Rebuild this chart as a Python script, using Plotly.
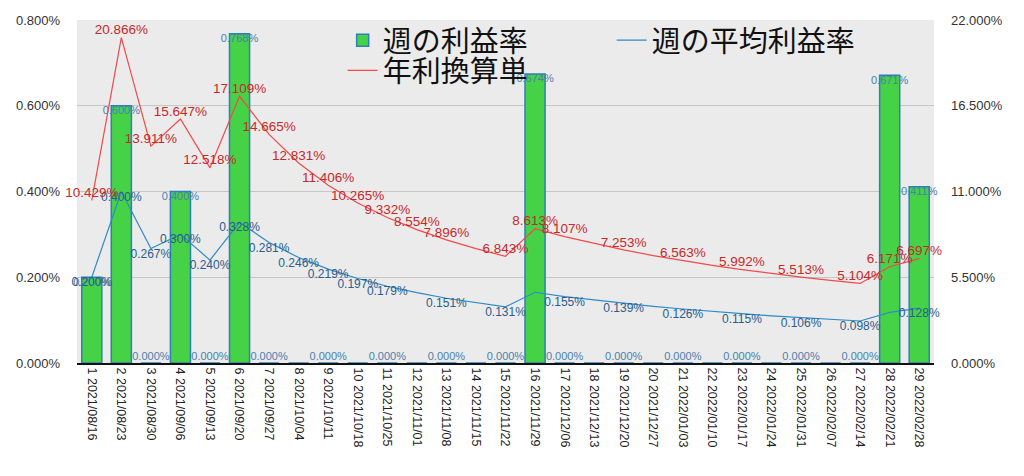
import plotly.graph_objects as go

# week labels
weeks = ["2021/08/16", "2021/08/23", "2021/08/30", "2021/09/06", "2021/09/13", "2021/09/20",
         "2021/09/27", "2021/10/04", "2021/10/11", "2021/10/18", "2021/10/25", "2021/11/01",
         "2021/11/08", "2021/11/15", "2021/11/22", "2021/11/29", "2021/12/06", "2021/12/13",
         "2021/12/20", "2021/12/27", "2022/01/03", "2022/01/10", "2022/01/17", "2022/01/24",
         "2022/01/31", "2022/02/07", "2022/02/14", "2022/02/21", "2022/02/28"]
categories = [f"{i + 1} {w}" for i, w in enumerate(weeks)]

# 週の利益率 (%)
weekly = [0.200, 0.600, 0.000, 0.400, 0.000, 0.768, 0.000, 0.000, 0.000, 0.000,
          0.000, 0.000, 0.000, 0.000, 0.000, 0.674, 0.000, 0.000, 0.000, 0.000,
          0.000, 0.000, 0.000, 0.000, 0.000, 0.000, 0.000, 0.671, 0.411]

# 週の平均利益率 (%)
average = [0.200, 0.400, 0.267, 0.300, 0.240, 0.328, 0.281, 0.246, 0.219, 0.197,
           0.179, 0.164, 0.151, 0.141, 0.131, 0.165, 0.155, 0.147, 0.139, 0.132,
           0.126, 0.120, 0.115, 0.110, 0.106, 0.102, 0.098, 0.118, 0.128]

# 年利換算単 (%)
annual = [10.429, 20.866, 13.911, 15.647, 12.518, 17.109, 14.665, 12.831, 11.406, 10.265,
          9.332, 8.554, 7.896, 7.332, 6.843, 8.613, 8.107, 7.656, 7.253, 6.891,
          6.563, 6.264, 5.992, 5.742, 5.513, 5.301, 5.104, 6.171, 6.697]

# which points carry a visible data label in the original
weekly_shown = [1, 2, 3, 4, 5, 6, 7, 9, 11, 13, 15, 16, 17, 19, 21, 23, 25, 27, 28, 29]
average_shown = [1, 2, 3, 4, 5, 6, 7, 8, 9, 10, 11, 13, 15, 17, 19, 21, 23, 25, 27, 29]
annual_shown = [1, 2, 3, 4, 5, 6, 7, 8, 9, 10, 11, 12, 13, 15, 16, 17, 19, 21, 23, 25, 27, 28, 29]

FONT = "Liberation Sans, Arial, Noto Sans CJK JP"
GREEN = "#46d246"
BAR_EDGE = "#2f7fb8"
BLUE = "#2f8ac8"
RED = "#f24a4a"

fig = go.Figure()

fig.add_trace(go.Bar(x=categories, y=weekly, name="週の利益率",
                     marker=dict(color=GREEN, line=dict(color=BAR_EDGE, width=1.5)),
                     yaxis="y", legend="legend"))

fig.add_trace(go.Scatter(x=categories, y=average, name="週の平均利益率", mode="lines",
                         line=dict(color=BLUE, width=1.2), yaxis="y", legend="legend"))

fig.add_trace(go.Scatter(x=categories, y=annual, name="年利換算単", mode="lines",
                         line=dict(color=RED, width=1.2), yaxis="y2", legend="legend2"))

# data labels
bar_text = [f"{v:.3f}%" if (i + 1) in weekly_shown else "" for i, v in enumerate(weekly)]
bar_pos = ["bottom center" if v > 0 else "top center" for v in weekly]
fig.add_trace(go.Scatter(x=categories, y=weekly, mode="text", text=bar_text,
                         textposition=bar_pos, showlegend=False, hoverinfo="skip",
                         cliponaxis=False,
                         textfont=dict(color="#4a7fae", size=11, family=FONT), yaxis="y"))

avg_text = [f"{v:.3f}%" if (i + 1) in average_shown else "" for i, v in enumerate(average)]
fig.add_trace(go.Scatter(x=categories, y=average, mode="text", text=avg_text,
                         textposition="bottom center", showlegend=False, hoverinfo="skip",
                         cliponaxis=False,
                         textfont=dict(color="#2a5d8c", size=12, family=FONT), yaxis="y"))

ann_text = [f"{v:.3f}%" if (i + 1) in annual_shown else "" for i, v in enumerate(annual)]
fig.add_trace(go.Scatter(x=categories, y=annual, mode="text", text=ann_text,
                         textposition="top center", showlegend=False, hoverinfo="skip",
                         cliponaxis=False,
                         textfont=dict(color="#c8282a", size=13.5, family=FONT), yaxis="y2"))

legend_font = dict(size=29, color="#111111", family="Noto Sans CJK JP")

# page body has an 8px margin, so the figure is a bit smaller than the window
fig.update_layout(
    width=1008, height=460,
    margin=dict(l=69, r=82, t=12, b=105, autoexpand=False),
    paper_bgcolor="white",
    plot_bgcolor="#ebebeb",
    font=dict(family=FONT, size=13, color="#333333"),
    bargap=0.32,
    showlegend=True,
    legend=dict(orientation="h", x=0.31, y=1.015, xanchor="left", yanchor="top",
                bgcolor="rgba(0,0,0,0)", entrywidth=224, font=legend_font),
    legend2=dict(orientation="h", x=0.31, y=0.927, xanchor="left", yanchor="top",
                 bgcolor="rgba(0,0,0,0)", font=legend_font),
    xaxis=dict(type="category", range=[-0.5, len(categories) - 0.5], tickangle=90,
               showgrid=False, ticks="", showline=True, linecolor="#111111", linewidth=2,
               automargin=False, tickfont=dict(size=12.5, color="#222222")),
    yaxis=dict(range=[0, 0.8], dtick=0.2, tickformat=".3f", ticksuffix="%",
               gridcolor="#c6c6c6", gridwidth=1, zeroline=False, showline=False,
               automargin=False, ticklabelstandoff=16,
               tickfont=dict(size=13, color="#333333")),
    yaxis2=dict(range=[0, 22], dtick=5.5, tickformat=".3f", ticksuffix="%",
                overlaying="y", side="right", showgrid=False, zeroline=False,
                automargin=False, ticklabelstandoff=16,
                tickfont=dict(size=13, color="#333333")),
)

fig.write_html("out.html")
